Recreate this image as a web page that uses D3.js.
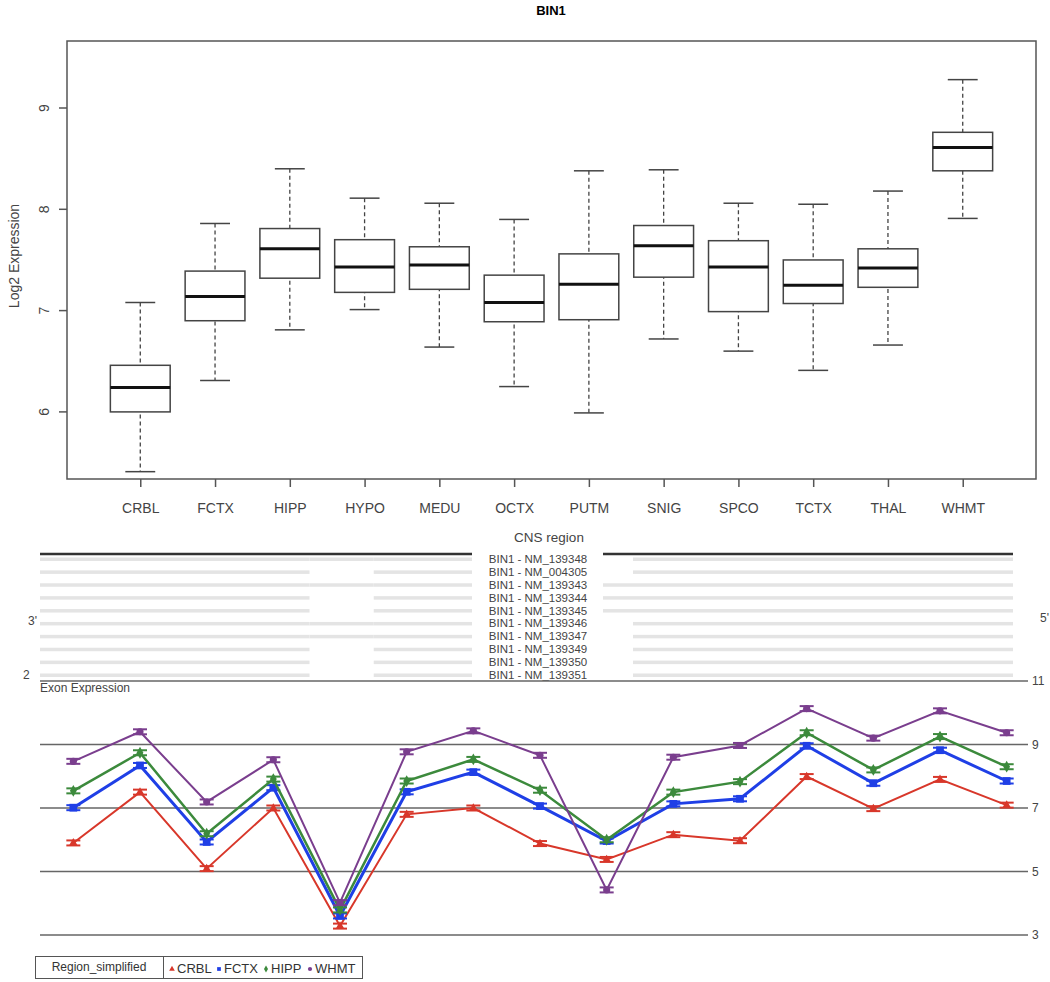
<!DOCTYPE html>
<html>
<head>
<meta charset="utf-8">
<script src="https://cdn.jsdelivr.net/npm/d3@7"></script>
<style>
  body { margin: 0; background: #fff; }
  text { font-family: "Liberation Sans", Arial, sans-serif; }
</style>
</head>
<body>
<script>
// ---- box plot data (Log2 Expression by CNS region) ----
var regions    = ["CRBL","FCTX","HIPP","HYPO","MEDU","OCTX","PUTM","SNIG","SPCO","TCTX","THAL","WHMT"];
var whiskerLo  = [5.41, 6.31, 6.81, 7.01, 6.64, 6.25, 5.99, 6.72, 6.60, 6.41, 6.66, 7.91];
var q1         = [6.00, 6.90, 7.32, 7.18, 7.21, 6.89, 6.91, 7.33, 6.99, 7.07, 7.23, 8.38];
var medians    = [6.24, 7.14, 7.61, 7.43, 7.45, 7.08, 7.26, 7.64, 7.43, 7.25, 7.42, 8.61];
var q3         = [6.46, 7.39, 7.81, 7.70, 7.63, 7.35, 7.56, 7.84, 7.69, 7.50, 7.61, 8.76];
var whiskerHi  = [7.08, 7.86, 8.40, 8.11, 8.06, 7.90, 8.38, 8.39, 8.06, 8.05, 8.18, 9.28];
var boxTicks   = [6, 7, 8, 9];

// ---- transcripts ----
var transcripts = ["BIN1 - NM_139348","BIN1 - NM_004305","BIN1 - NM_139343","BIN1 - NM_139344",
                   "BIN1 - NM_139345","BIN1 - NM_139346","BIN1 - NM_139347","BIN1 - NM_139349",
                   "BIN1 - NM_139350","BIN1 - NM_139351"];
// does the transcript include the alternative exon / the longer right exon
var hasAltExon   = [true, false, true, false, false, true, true, false, false, false];
var hasLongRight = [false, false, true, true, true, false, false, false, false, false];

// ---- exon expression ----
var exons = d3.range(1, 16);
var crbl = [5.90, 7.50, 5.09, 7.00, 3.28, 6.80, 7.00, 5.88, 5.38, 6.16, 5.97, 7.99, 6.98, 7.90, 7.09];
var fctx = [7.01, 8.34, 5.93, 7.64, 3.60, 7.51, 8.13, 7.06, 5.96, 7.13, 7.29, 8.96, 7.78, 8.82, 7.85];
var hipp = [7.54, 8.74, 6.19, 7.91, 3.79, 7.85, 8.53, 7.56, 6.00, 7.50, 7.83, 9.37, 8.20, 9.25, 8.30];
var whmt = [8.47, 9.40, 7.19, 8.52, 4.02, 8.77, 9.43, 8.66, 4.42, 8.60, 8.97, 10.13, 9.20, 10.06, 9.37];
var exprTicks = [3, 5, 7, 9, 11];
var seriesNames = ["CRBL", "FCTX", "HIPP", "WHMT"];

var w = 1050, h = 982;
var svg = d3.select("body").append("svg").attr("width", w).attr("height", h);

/* ================= top: box plot ================= */
var frame = {left: 67, right: 1036, top: 41, bottom: 479};
var unit = (frame.right - frame.left) / 12.96;

var x = d3.scalePoint()
          .domain(regions)
          .range([frame.left + 0.48 * unit, frame.right - 0.48 * unit])
          .padding(0.5);
var y = d3.scaleLinear()
          .domain([9 - (frame.bottom - 108) / 101.3, 9 + (108 - frame.top) / 101.3])
          .range([frame.bottom, frame.top]);

svg.append("text")
   .attr("x", 551).attr("y", 15)
   .attr("text-anchor", "middle")
   .style("font-weight", "bold").style("font-size", "13px")
   .text("BIN1");

svg.append("rect")
   .attr("x", frame.left).attr("y", frame.top)
   .attr("width", frame.right - frame.left).attr("height", frame.bottom - frame.top)
   .style("fill", "none").style("stroke", "#555").style("stroke-width", 1.5);

var yAx = svg.append("g")
   .attr("transform", "translate(" + frame.left + ",0)")
   .call(d3.axisLeft(y).tickValues(boxTicks).tickSize(8).tickFormat(d3.format("d")));
yAx.select(".domain").remove();
yAx.selectAll("line").style("stroke", "#555").style("stroke-width", 1.5);
yAx.selectAll("text")
   .attr("x", 0).attr("dy", 0)
   .attr("transform", function(d){ return "translate(-18," + y(d) + ") rotate(-90)"; })
   .attr("y", 0)
   .attr("text-anchor", "middle")
   .style("font-size", "14px").style("fill", "#444");
yAx.selectAll(".tick").attr("transform", null);
yAx.selectAll(".tick line").attr("transform", function(d){ return "translate(0," + y(d) + ")"; });

var xAx = svg.append("g")
   .attr("transform", "translate(0," + frame.bottom + ")")
   .call(d3.axisBottom(x).tickSize(8));
xAx.select(".domain").remove();
xAx.selectAll("line").style("stroke", "#555").style("stroke-width", 1.5);
xAx.selectAll("text").attr("dy", "1.65em").style("font-size", "14px").style("fill", "#444");

svg.append("text")
   .attr("transform", "translate(19,256) rotate(-90)")
   .attr("text-anchor", "middle")
   .style("font-size", "14px").style("fill", "#444")
   .text("Log2 Expression");

svg.append("text")
   .attr("x", 549).attr("y", 542)
   .attr("text-anchor", "middle")
   .style("font-size", "13.5px").style("fill", "#444")
   .text("CNS region");

var boxW = 0.8 * unit;
var boxes = svg.append("g").selectAll("g")
   .data(regions).enter().append("g");

boxes.append("line")   // whiskers
   .attr("x1", function(d){ return x(d); }).attr("x2", function(d){ return x(d); })
   .attr("y1", function(d, i){ return y(whiskerHi[i]); })
   .attr("y2", function(d, i){ return y(whiskerLo[i]); })
   .style("stroke", "#444").style("stroke-width", 1.3).style("stroke-dasharray", "4,3");
[whiskerHi, whiskerLo].forEach(function(arr){
  boxes.append("line")
     .attr("x1", function(d){ return x(d) - boxW / 4; })
     .attr("x2", function(d){ return x(d) + boxW / 4; })
     .attr("y1", function(d, i){ return y(arr[i]); })
     .attr("y2", function(d, i){ return y(arr[i]); })
     .style("stroke", "#444").style("stroke-width", 1.5);
});
boxes.append("rect")
   .attr("x", function(d){ return x(d) - boxW / 2; })
   .attr("y", function(d, i){ return y(q3[i]); })
   .attr("width", boxW)
   .attr("height", function(d, i){ return y(q1[i]) - y(q3[i]); })
   .style("fill", "#fff").style("stroke", "#444").style("stroke-width", 1.5);
boxes.append("line")
   .attr("x1", function(d){ return x(d) - boxW / 2; })
   .attr("x2", function(d){ return x(d) + boxW / 2; })
   .attr("y1", function(d, i){ return y(medians[i]); })
   .attr("y2", function(d, i){ return y(medians[i]); })
   .style("stroke", "#111").style("stroke-width", 3);

/* ================= middle: transcripts ================= */
var gx = d3.scaleLinear().domain([0, 1]).range([40, 1013]);
var rowY = d3.scalePoint().domain(transcripts).range([559, 675]);

// top thick line, interrupted by the labels
svg.append("line").attr("x1", gx(0)).attr("x2", 472).attr("y1", 554).attr("y2", 554)
   .style("stroke", "#333").style("stroke-width", 2.5);
svg.append("line").attr("x1", 603).attr("x2", gx(1)).attr("y1", 554).attr("y2", 554)
   .style("stroke", "#333").style("stroke-width", 2.5);

var tr = svg.append("g").selectAll("g").data(transcripts).enter().append("g");
function seg(a, b) {
  tr.append("rect")
    .attr("x", gx(a)).attr("width", gx(b) - gx(a))
    .attr("y", function(d){ return rowY(d) - 1.5; })
    .attr("height", 3.5)
    .style("fill", "#e4e4e4");
}
seg(0, 0.277);
seg(0.343, 0.444);
tr.filter(function(d, i){ return hasAltExon[i]; })
  .append("rect")
  .attr("x", gx(0.277)).attr("width", gx(0.343) - gx(0.277))
  .attr("y", function(d){ return rowY(d) - 1.5; }).attr("height", 3.5)
  .style("fill", "#e4e4e4");
tr.append("rect")
  .attr("x", function(d, i){ return hasLongRight[i] ? 603 : 633; })
  .attr("width", function(d, i){ return gx(1) - (hasLongRight[i] ? 603 : 633); })
  .attr("y", function(d){ return rowY(d) - 1.5; }).attr("height", 3.5)
  .style("fill", "#e4e4e4");
tr.append("text")
  .attr("x", 538).attr("y", function(d){ return rowY(d) + 4; })
  .attr("text-anchor", "middle")
  .style("font-size", "11.5px").style("fill", "#444")
  .text(function(d){ return d; });

svg.append("text").attr("x", 28).attr("y", 625).style("font-size", "12px").style("fill", "#444").text("3'");
svg.append("text").attr("x", 1040).attr("y", 622).style("font-size", "12px").style("fill", "#444").text("5'");
svg.append("text").attr("x", 23).attr("y", 679).style("font-size", "12px").style("fill", "#444").text("2");

/* ================= bottom: exon expression ================= */
var ex = d3.scalePoint().domain(exons).range([40, 1040]).padding(0.5);
var ey = d3.scaleLinear().domain([3, 11]).range([935, 681]);

var grid = svg.append("g");
grid.selectAll("line").data(exprTicks).enter().append("line")
    .attr("x1", 40).attr("x2", 1028)
    .attr("y1", function(d){ return ey(d); }).attr("y2", function(d){ return ey(d); })
    .style("stroke", "#666").style("stroke-width", 1.5);
grid.selectAll("text").data(exprTicks).enter().append("text")
    .attr("x", 1032).attr("y", function(d){ return ey(d) + 4; })
    .style("font-size", "12px").style("fill", "#444")
    .text(function(d){ return d; });

svg.append("text").attr("x", 40).attr("y", 692)
   .style("font-size", "12px").style("fill", "#444").text("Exon Expression");

var series = [
  {name: "CRBL", values: crbl, color: "#d8372a", width: 2,   sym: d3.symbolTriangle, size: 30},
  {name: "FCTX", values: fctx, color: "#1f3fe6", width: 3,   sym: d3.symbolSquare,   size: 60},
  {name: "HIPP", values: hipp, color: "#3c8a3c", width: 2.5, sym: d3.symbolDiamond,  size: 40},
  {name: "WHMT", values: whmt, color: "#7a3e8e", width: 2,   sym: d3.symbolCircle,   size: 40}
];

var line = d3.line()
             .x(function(d, i){ return ex(exons[i]); })
             .y(function(d){ return ey(d); });

series.forEach(function(s){
  var g = svg.append("g");
  g.append("path").datum(s.values).attr("d", line)
   .style("fill", "none").style("stroke", s.color).style("stroke-width", s.width);
  var pts = g.selectAll("g").data(s.values).enter().append("g")
     .attr("transform", function(d, i){ return "translate(" + ex(exons[i]) + "," + ey(d) + ")"; });
  // little error-bar caps
  [-2.5, 2.5].forEach(function(dy){
    pts.append("line").attr("x1", -7).attr("x2", 7).attr("y1", dy).attr("y2", dy)
       .style("stroke", s.color).style("stroke-width", 2);
  });
  pts.append("path").attr("d", d3.symbol().type(s.sym).size(s.size))
     .style("fill", s.color);
});

/* legend */
var lg = svg.append("g");
lg.append("rect").attr("x", 35.5).attr("y", 956.5).attr("width", 327).attr("height", 22)
  .style("fill", "#fff").style("stroke", "#555").style("stroke-width", 1);
lg.append("line").attr("x1", 163.5).attr("x2", 163.5).attr("y1", 956.5).attr("y2", 978.5)
  .style("stroke", "#555");
lg.append("text").attr("x", 99).attr("y", 971).attr("text-anchor", "middle")
  .style("font-size", "12px").style("fill", "#333").text("Region_simplified");
var legX = [172, 219, 266, 310];
series.forEach(function(s, i){
  lg.append("path")
    .attr("transform", "translate(" + legX[i] + ",969)")
    .attr("d", d3.symbol().type(s.sym).size(14))
    .style("fill", s.color);
  lg.append("text").attr("x", legX[i] + 5).attr("y", 973)
    .style("font-size", "13px").style("fill", "#333").text(seriesNames[i]);
});
</script>
</body>
</html>
